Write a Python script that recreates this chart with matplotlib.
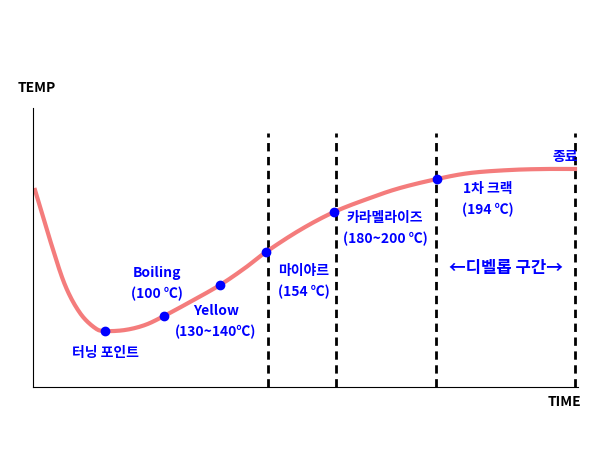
import numpy as np
import matplotlib
matplotlib.use("Agg")
import matplotlib.pyplot as plt
plt.rcParams['font.family'] = ['Noto Sans CJK KR', 'DejaVu Sans']

curve_x = [35,50,65,80,95,105,125,145,164,190,220,245,266,300,334,370,400,437,470,510,545,575]
curve_y = [260,210,165,137,122,119,120,125,134,148,165,182,198,220,238,252,262,271,277,280,281,281]
point_x = [105,164,220,266,334,437]
point_y = [119,134,165,198,238,271]
vlines_x = [268,336,436,575]
labels = [("터닝 포인트",105,97,'center'),("Boiling\n(100 ℃)",157,166,'center'),
          ("Yellow\n(130~140℃)",216,128,'center'),("마이야르\n(154 ℃)",304,168,'center'),
          ("카라멜라이즈\n(180~200 ℃)",385,221,'center'),("1차 크랙\n(194 ℃)",488,250,'center'),
          ("종료",565,293,'center')]

def catmull(xs, ys, n=20):
    P = np.array(list(zip(xs, ys)), float)
    P = np.vstack([P[0], P, P[-1]])
    out = []
    for i in range(1, len(P)-2):
        p0,p1,p2,p3 = P[i-1],P[i],P[i+1],P[i+2]
        for t in np.linspace(0,1,n,endpoint=False):
            out.append(0.5*((2*p1)+(-p0+p2)*t+(2*p0-5*p1+4*p2-p3)*t**2+(-p0+3*p1-3*p2+p3)*t**3))
    out.append(P[-2])
    return np.array(out)

fig = plt.figure(figsize=(6,4.5), dpi=100)
ax = fig.add_axes([33/600, 63/450, 545/600, 279/450])
ax.set_xlim(33,578); ax.set_ylim(63,342)
for s in ['top','right']: ax.spines[s].set_visible(False)
ax.set_xticks([]); ax.set_yticks([])
c = catmull(curve_x, curve_y)
ax.plot(c[:,0], c[:,1], color='#f47c7c', lw=3, zorder=2)
for x in vlines_x:
    ax.plot([x,x],[63,317], color='black', ls=(0,(3,2)), lw=2, zorder=1)
ax.scatter(point_x, point_y, color='#0000ff', s=36, zorder=3)
for t,x,y,ha in labels:
    ax.text(x,y,t,color='#0000ff',fontsize=10,fontweight='bold',ha=ha,va='center',linespacing=1.6)
ax.text(506,182,"←디벨롭 구간→",color='#0000ff',fontsize=12,fontweight='bold',ha='center',va='center')
fig.text(18/600,1-88/450,"TEMP",fontsize=10,fontweight='bold',va='center')
fig.text(548/600,1-402/450,"TIME",fontsize=10,fontweight='bold',va='center')
fig.savefig('out.png')
